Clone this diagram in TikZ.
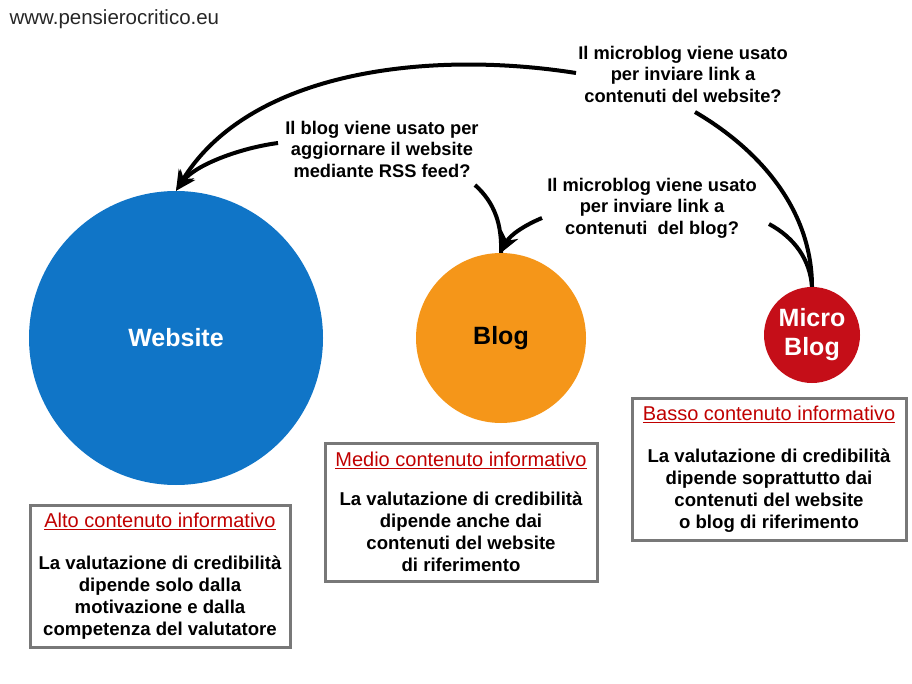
\documentclass[tikz,border=0pt]{standalone}
\usepackage{fontspec}
\setmainfont{Liberation Sans}
\usepackage{xcolor}
\usetikzlibrary{arrows.meta}
\definecolor{azzurro}{RGB}{16,117,199}
\definecolor{arancio}{RGB}{245,150,25}
\definecolor{rosso}{RGB}{197,14,24}
\definecolor{titolo}{RGB}{192,0,0}
\definecolor{bordo}{RGB}{120,120,120}
\newcommand{\titolobox}[1]{{\mdseries\fontsize{20}{22}\selectfont\textcolor{titolo}{\underline{#1}}}}

\begin{document}
\begin{tikzpicture}[x=1pt,y=-1pt,
    cerchio/.style={circle, inner sep=0pt, align=center,
      font=\fontsize{25}{29}\selectfont\bfseries},
    domanda/.style={align=center, inner sep=2pt,
      font=\fontsize{18.3}{21.5}\selectfont\bfseries},
    scheda/.style={draw=bordo, line width=3pt, fill=white, align=center,
      font=\fontsize{18.6}{22}\selectfont\bfseries},
    linea/.style={line width=4pt},
    freccia/.style={line width=4pt, -{Stealth[length=20pt,width=18pt]}}]
  \useasboundingbox (0,0) rectangle (912,684);

  % Sito in alto
  \node[anchor=west, font=\fontsize{20.5}{22}\selectfont, text=black!85] (sito) at (6,19) {www.pensierocritico.eu};

  % Cerchi
  \node[cerchio, fill=azzurro, text=white, minimum size=294] (website) at (176,338) {Website};
  \node[cerchio, fill=arancio, text=black, minimum size=170] (blog) at (501,338) {Blog};
  \node[cerchio, fill=rosso, text=white, minimum size=96] (micro) at (812,335) {Micro\\Blog};

  % Domande
  \node[domanda] (q1) at (683,74) {Il microblog viene usato\\per inviare link a\\contenuti del website?};
  \node[domanda] (q2) at (382,149) {Il blog viene usato per\\aggiornare il website\\mediante RSS feed?};
  \node[domanda] (q3) at (652,208) {Il microblog viene usato\\per inviare link a\\contenuti~ del blog?};

  % Schede
  \node[scheda, minimum width=260, minimum height=142] (alto) at (160,576)
    {\titolobox{Alto contenuto informativo}\\[20pt]
     La valutazione di credibilità\\dipende solo dalla\\motivazione e dalla\\competenza del valutatore};
  \node[scheda, minimum width=272, minimum height=138] (medio) at (461,512)
    {\titolobox{Medio contenuto informativo}\\[17pt]
     La valutazione di credibilità\\dipende anche dai\\contenuti del website\\di riferimento};
  \node[scheda, minimum width=274, minimum height=142] (basso) at (769,469)
    {\titolobox{Basso contenuto informativo}\\[20pt]
     La valutazione di credibilità\\dipende soprattutto dai\\contenuti del website\\o blog di riferimento};

  % Estremi liberi delle frecce
  \coordinate (a1) at (695,112);
  \coordinate (a2) at (576,73);
  \coordinate (b1) at (475,185);
  \coordinate (b2) at (278,143);
  \coordinate (c1) at (769,224);
  \coordinate (c2) at (542,218);

  % Frecce
  \draw[linea] (micro.north) .. controls (812,210) and (760,150) .. (a1);
  \draw[freccia] (a2) .. controls (430,50) and (250,70) .. (website.north);
  \draw[linea] (blog.north) .. controls (502,225) and (495,203) .. (b1);
  \draw[freccia] (b2) .. controls (240,148) and (195,165) .. (website.north);
  \draw[linea] (micro.north) .. controls (810,260) and (795,238) .. (c1);
  \draw[freccia] (c2) .. controls (525,225) and (510,235) .. (blog.north);
\end{tikzpicture}
\end{document}
